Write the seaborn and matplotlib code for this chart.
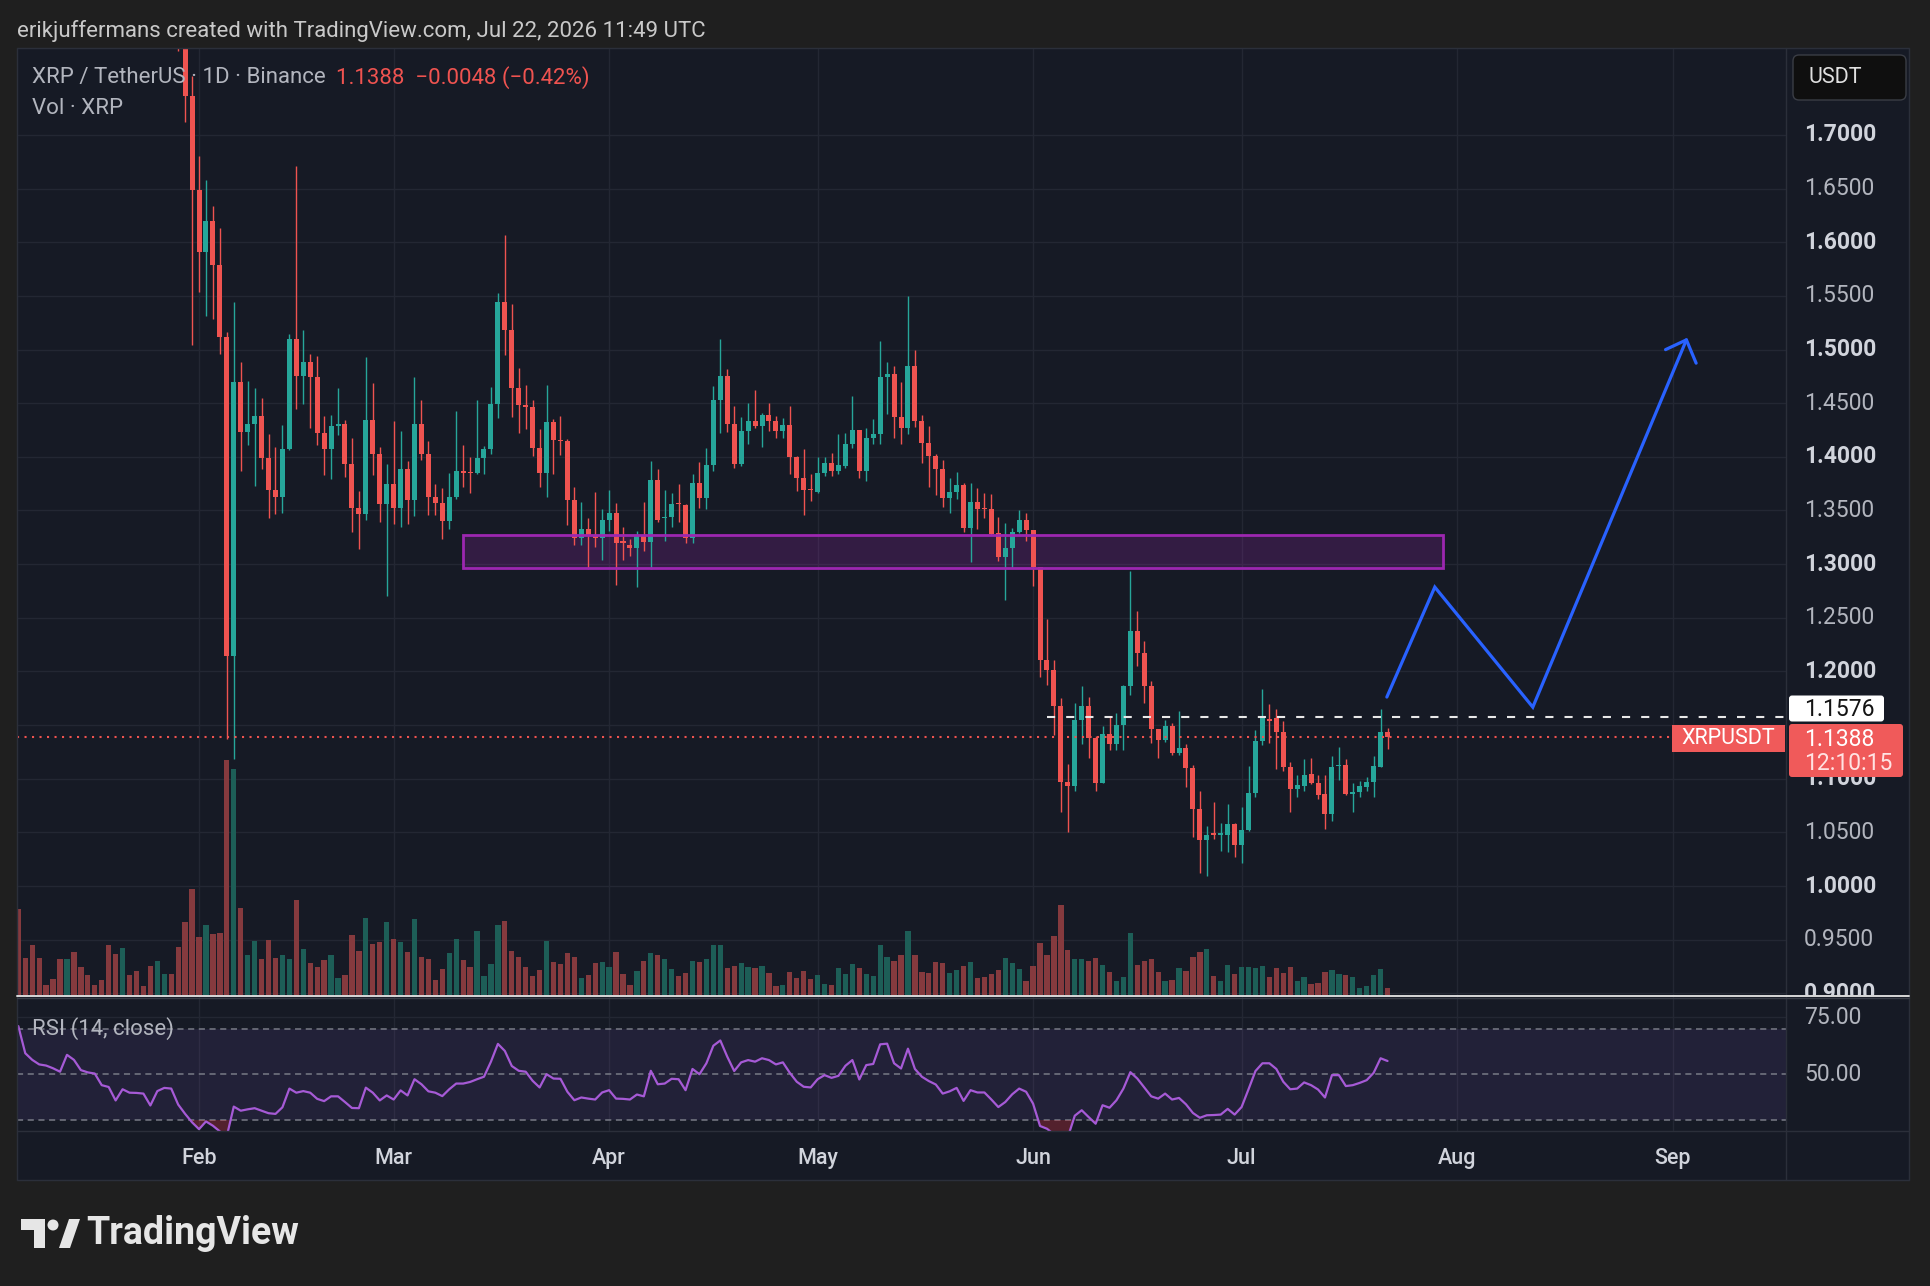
import numpy as np
import pandas as pd
import matplotlib
matplotlib.use("Agg")
import matplotlib.pyplot as plt
import seaborn as sns
from matplotlib.patches import Rectangle, FancyBboxPatch, Polygon, Circle
from matplotlib.lines import Line2D

# ---------------- data (XRP / TetherUS, 1D, Binance) ----------------
first_day = "2026-01-06"
last_day = "2026-07-22"
ref_day = "2026-02-01"

opens = [
    2.140, 2.100, 2.060, 2.020, 1.985, 1.975, 1.960, 1.935, 1.975, 1.955,
    1.935, 1.920, 1.910, 1.900, 1.860, 1.840, 1.870, 1.855, 1.845, 1.840,
    1.820, 1.840, 1.855, 1.838, 1.805, 1.736,
    1.649, 1.591, 1.620, 1.579, 1.512, 1.214, 1.470, 1.423, 1.431, 1.438,
    1.399, 1.369, 1.363, 1.407, 1.510, 1.475, 1.488, 1.474, 1.422, 1.407,
    1.429, 1.431, 1.393, 1.352, 1.347, 1.434, 1.403, 1.356, 1.375, 1.352,
    1.389, 1.360, 1.431, 1.403, 1.363, 1.357, 1.340, 1.363, 1.387, 1.386,
    1.385, 1.399, 1.407, 1.449, 1.544, 1.518, 1.464, 1.448, 1.446, 1.408,
    1.385, 1.432, 1.416, 1.415, 1.360, 1.324, 1.333, 1.327, 1.324, 1.341,
    1.348, 1.321, 1.318, 1.315, 1.326, 1.321, 1.378, 1.343, 1.344, 1.357,
    1.355, 1.324, 1.376, 1.362, 1.392, 1.453, 1.475, 1.431, 1.393, 1.424,
    1.433, 1.429, 1.439, 1.433, 1.424, 1.430, 1.400, 1.380, 1.370, 1.367,
    1.385, 1.394, 1.387, 1.391, 1.412, 1.425, 1.387, 1.418, 1.421, 1.474,
    1.477, 1.437, 1.427, 1.485, 1.433, 1.413, 1.401, 1.389, 1.362, 1.367,
    1.374, 1.334, 1.358, 1.352, 1.351, 1.329, 1.307, 1.315, 1.330, 1.341,
    1.332, 1.297, 1.211, 1.201, 1.168, 1.097, 1.093, 1.155, 1.168, 1.138,
    1.096, 1.142, 1.132, 1.150, 1.186, 1.238, 1.217, 1.186, 1.146, 1.136,
    1.149, 1.124, 1.129, 1.110, 1.072, 1.043, 1.049, 1.048, 1.048, 1.058,
    1.038, 1.052, 1.087, 1.135, 1.156, 1.157, 1.144, 1.111, 1.090, 1.093,
    1.104, 1.096, 1.086, 1.067, 1.112, 1.113, 1.086, 1.088, 1.092, 1.097,
    1.111, 1.1436,
]
highs = [
    2.160, 2.115, 2.075, 2.035, 1.995, 1.985, 1.970, 1.990, 1.985, 1.965,
    1.945, 1.930, 1.920, 1.905, 1.870, 1.885, 1.880, 1.865, 1.855, 1.850,
    1.850, 1.865, 1.862, 1.850, 1.815, 1.755,
    1.680, 1.658, 1.634, 1.613, 1.516, 1.544, 1.488, 1.471, 1.464, 1.455,
    1.421, 1.409, 1.430, 1.514, 1.671, 1.518, 1.496, 1.494, 1.438, 1.439,
    1.464, 1.434, 1.418, 1.368, 1.493, 1.469, 1.409, 1.393, 1.433, 1.424,
    1.396, 1.474, 1.453, 1.415, 1.375, 1.371, 1.385, 1.443, 1.411, 1.400,
    1.453, 1.410, 1.465, 1.553, 1.607, 1.542, 1.483, 1.467, 1.453, 1.426,
    1.467, 1.435, 1.438, 1.417, 1.372, 1.358, 1.343, 1.367, 1.351, 1.369,
    1.357, 1.335, 1.323, 1.331, 1.358, 1.396, 1.389, 1.369, 1.366, 1.375,
    1.356, 1.384, 1.395, 1.408, 1.466, 1.510, 1.482, 1.447, 1.437, 1.450,
    1.462, 1.441, 1.450, 1.438, 1.436, 1.447, 1.401, 1.407, 1.384, 1.400,
    1.400, 1.404, 1.421, 1.422, 1.457, 1.425, 1.427, 1.435, 1.508, 1.488,
    1.485, 1.470, 1.550, 1.500, 1.439, 1.429, 1.403, 1.397, 1.380, 1.386,
    1.376, 1.376, 1.371, 1.366, 1.365, 1.344, 1.338, 1.334, 1.350, 1.348,
    1.332, 1.297, 1.249, 1.211, 1.175, 1.114, 1.171, 1.186, 1.176, 1.140,
    1.149, 1.158, 1.161, 1.187, 1.294, 1.256, 1.228, 1.191, 1.146, 1.155,
    1.152, 1.163, 1.132, 1.113, 1.089, 1.056, 1.078, 1.059, 1.076, 1.059,
    1.074, 1.112, 1.145, 1.184, 1.170, 1.165, 1.154, 1.116, 1.103, 1.118,
    1.119, 1.103, 1.103, 1.121, 1.130, 1.118, 1.096, 1.098, 1.102, 1.121,
    1.165, 1.1475,
]
lows = [
    2.090, 2.050, 2.010, 1.975, 1.960, 1.950, 1.925, 1.930, 1.945, 1.925,
    1.910, 1.900, 1.890, 1.850, 1.830, 1.835, 1.845, 1.835, 1.830, 1.815,
    1.812, 1.830, 1.830, 1.778, 1.712, 1.504,
    1.554, 1.531, 1.528, 1.496, 1.137, 1.118, 1.387, 1.411, 1.373, 1.389,
    1.343, 1.347, 1.348, 1.406, 1.445, 1.449, 1.427, 1.411, 1.383, 1.379,
    1.420, 1.381, 1.330, 1.314, 1.341, 1.383, 1.339, 1.270, 1.337, 1.335,
    1.337, 1.345, 1.397, 1.346, 1.346, 1.323, 1.333, 1.361, 1.372, 1.366,
    1.384, 1.384, 1.403, 1.436, 1.495, 1.437, 1.422, 1.426, 1.401, 1.372,
    1.363, 1.384, 1.402, 1.336, 1.318, 1.318, 1.295, 1.316, 1.304, 1.331,
    1.281, 1.304, 1.308, 1.279, 1.312, 1.295, 1.339, 1.322, 1.335, 1.339,
    1.320, 1.320, 1.352, 1.351, 1.387, 1.422, 1.423, 1.390, 1.391, 1.412,
    1.427, 1.409, 1.424, 1.418, 1.418, 1.384, 1.368, 1.346, 1.359, 1.366,
    1.382, 1.382, 1.384, 1.390, 1.408, 1.380, 1.377, 1.412, 1.412, 1.440,
    1.418, 1.412, 1.421, 1.428, 1.394, 1.372, 1.364, 1.353, 1.348, 1.361,
    1.330, 1.302, 1.333, 1.343, 1.327, 1.303, 1.267, 1.296, 1.329, 1.322,
    1.280, 1.195, 1.187, 1.141, 1.069, 1.050, 1.089, 1.132, 1.119, 1.089,
    1.096, 1.127, 1.127, 1.127, 1.178, 1.205, 1.171, 1.133, 1.119, 1.134,
    1.122, 1.122, 1.092, 1.046, 1.012, 1.009, 1.044, 1.033, 1.032, 1.027,
    1.021, 1.051, 1.083, 1.131, 1.133, 1.109, 1.107, 1.069, 1.083, 1.089,
    1.095, 1.081, 1.053, 1.061, 1.099, 1.085, 1.069, 1.083, 1.089, 1.083,
    1.111, 1.128,
]
closes = [
    2.100, 2.060, 2.020, 1.985, 1.975, 1.960, 1.935, 1.975, 1.955, 1.935,
    1.920, 1.910, 1.900, 1.860, 1.840, 1.870, 1.855, 1.845, 1.840, 1.820,
    1.840, 1.855, 1.838, 1.805, 1.736, 1.649,
    1.591, 1.620, 1.579, 1.512, 1.214, 1.470, 1.423, 1.431, 1.438, 1.399,
    1.369, 1.363, 1.407, 1.510, 1.475, 1.488, 1.474, 1.422, 1.407, 1.429,
    1.431, 1.393, 1.352, 1.347, 1.434, 1.403, 1.356, 1.375, 1.352, 1.389,
    1.360, 1.431, 1.403, 1.363, 1.357, 1.340, 1.363, 1.387, 1.385, 1.385,
    1.399, 1.407, 1.449, 1.544, 1.518, 1.464, 1.448, 1.446, 1.408, 1.385,
    1.432, 1.416, 1.415, 1.360, 1.324, 1.333, 1.327, 1.324, 1.341, 1.348,
    1.320, 1.320, 1.315, 1.326, 1.321, 1.378, 1.341, 1.344, 1.356, 1.356,
    1.324, 1.376, 1.362, 1.392, 1.453, 1.475, 1.431, 1.393, 1.424, 1.433,
    1.429, 1.439, 1.433, 1.424, 1.430, 1.400, 1.380, 1.369, 1.369, 1.385,
    1.394, 1.387, 1.392, 1.412, 1.425, 1.387, 1.418, 1.421, 1.474, 1.477,
    1.437, 1.427, 1.485, 1.433, 1.413, 1.401, 1.389, 1.362, 1.367, 1.374,
    1.334, 1.358, 1.351, 1.351, 1.328, 1.307, 1.315, 1.330, 1.341, 1.332,
    1.297, 1.211, 1.201, 1.168, 1.097, 1.093, 1.155, 1.168, 1.138, 1.096,
    1.142, 1.132, 1.150, 1.186, 1.238, 1.217, 1.186, 1.146, 1.136, 1.149,
    1.124, 1.129, 1.110, 1.072, 1.043, 1.048, 1.048, 1.049, 1.058, 1.038,
    1.052, 1.087, 1.135, 1.157, 1.154, 1.144, 1.111, 1.090, 1.094, 1.103,
    1.096, 1.085, 1.067, 1.111, 1.113, 1.086, 1.088, 1.093, 1.097, 1.112,
    1.1436, 1.1388,
]
volumes = [
    87, 38, 51, 38, 11, 17, 37, 37, 44, 29, 21, 11, 16, 51, 42, 48, 21, 25, 10, 30,
    35, 22, 22, 49, 74, 107, 59, 71, 62, 63, 236, 227, 88, 41, 55, 37, 56, 38, 41, 37,
    96, 47, 33, 29, 36, 41, 18, 21, 61, 45, 78, 52, 54, 74, 57, 54, 44, 77, 39, 37,
    16, 27, 43, 57, 36, 29,
    65, 20, 32, 71, 75, 45, 39, 29, 20, 26, 55, 34, 32, 43, 39, 18, 21, 33, 34, 29,
    44, 22, 11, 25, 35, 43, 41, 37, 27, 20, 23, 35, 34, 37, 51, 51, 28, 30, 33, 29,
    28, 30, 23, 10, 11, 24, 18, 25, 17, 21, 12, 11, 28, 22, 32, 28, 22, 20, 51, 39,
    35, 41, 65, 41, 24, 23,
    34, 33, 23, 26, 30, 34, 18, 19, 22, 26, 38, 33, 27, 15, 30, 53, 41, 60, 91, 46,
    37, 37, 35, 38, 31, 24, 15, 19, 63, 31, 35, 37, 24, 15, 16, 28, 25, 39, 44, 47,
    20, 15, 31, 22, 29, 29, 28, 30, 19, 28, 23, 29, 15, 19, 12, 13, 24, 26, 22, 21,
    19, 8, 10, 21, 27, 8,
]
rsi_values = [
    71.2, 59.3, 56.4, 54.4, 53.9, 52.7, 51.2, 58.6, 56.4, 51.9,
    50.9, 50.4, 45.3, 44.5, 38.6, 43.5, 42.0, 41.9, 41.6, 36.4,
    42.7, 44.1, 43.8, 36.8, 32.7, 29.0, 26.0, 29.4, 27.5, 25.0,
    23.0, 35.9, 34.1, 34.7, 35.2, 34.1, 33.0, 32.7, 35.6, 43.8,
    42.0, 42.7, 42.0, 39.3, 38.3, 40.4, 40.4, 37.9, 35.3, 35.2,
    44.2, 42.0, 38.6, 40.8, 39.0, 43.0, 40.8, 47.9, 45.7, 42.6,
    42.0, 40.5, 43.5, 46.0, 46.0, 46.7,
    47.9, 49.0, 55.6, 63.4, 60.3, 53.7, 51.6, 51.2, 47.2, 44.3,
    50.1, 48.2, 48.1, 42.4, 38.7, 39.9, 39.4, 39.0, 42.1, 43.1,
    39.4, 39.3, 39.0, 41.2, 40.4, 51.6, 45.7, 46.0, 48.1, 47.9,
    43.1, 52.4, 50.1, 54.9, 62.6, 64.9, 57.8, 51.5, 55.3, 56.3,
    55.6, 57.1, 56.3, 54.4, 55.3, 50.7, 46.8, 44.6, 44.3, 47.9,
    49.7, 48.5, 49.4, 53.8, 56.3, 47.8, 54.1, 54.6, 63.2, 63.5,
    54.9, 52.6, 61.3, 52.4, 49.0, 47.1,
    45.6, 41.6, 42.6, 44.1, 38.4, 43.1, 42.1, 42.1, 39.0, 35.7,
    37.9, 41.3, 43.8, 42.4, 37.2, 27.4, 26.2, 23.7, 21.0, 22.5,
    31.9, 34.3, 31.3, 28.4, 36.5, 35.4, 38.7, 43.8, 51.0, 48.2,
    44.3, 40.4, 39.4, 41.6, 39.0, 39.7, 36.9, 33.1, 31.0, 32.1,
    32.2, 32.4, 34.9, 32.4, 35.7, 43.5, 51.5, 54.9, 54.9, 52.4,
    46.8, 43.5, 43.8, 46.5, 45.3, 43.4, 39.9, 49.7, 49.7, 44.9,
    45.3, 46.3, 47.5, 50.7, 57.1, 55.9,
]
month_labels = ["Feb", "Mar", "Apr", "May", "Jun", "Jul", "Aug", "Sep"]
month_starts = ["2026-02-01", "2026-03-01", "2026-04-01", "2026-05-01",
                "2026-06-01", "2026-07-01", "2026-08-01", "2026-09-01"]
price_ticks = [1.70, 1.65, 1.60, 1.55, 1.50, 1.45, 1.40, 1.35, 1.30, 1.25,
               1.20, 1.10, 1.05, 1.00, 0.95, 0.90]
rsi_ticks = [75, 50]
rsi_bands = [70, 50, 30]

# drawings (days since Feb 1, price)
zone_days = [38.0, 179.0]
zone_prices = [1.2961, 1.3268]
level_line_price = 1.1576
level_line_start = 122
last_price = 1.1388
path_days = [170.9, 177.8, 191.9, 214.0]
path_prices = [1.1761, 1.2786, 1.1667, 1.5090]
arrow_days = [211.0, 214.0, 215.4]
arrow_prices = [1.4999, 1.5090, 1.4873]

# ---------------- style ----------------
W, H = 1930, 1286
OUTER = "#1f1f1f"
BG = "#161a25"
GRID = "#232733"
BORDER = "#2b2f3a"
UP = "#26a69a"
DOWN = "#ef5350"
VUP = "#1d5e57"
VDOWN = "#853a3e"
TXT = "#b2b5be"
LABEL_RED = "#f05a5a"

sns.set_theme(style="dark")
plt.rcParams["font.family"] = ["Roboto", "DejaVu Sans"]
plt.rcParams["axes.unicode_minus"] = False

dates = pd.date_range(first_day, last_day, freq="D")
x = np.asarray((dates - pd.Timestamp(ref_day)).days, dtype=float)
o, h, l, c = (np.asarray(v, dtype=float) for v in (opens, highs, lows, closes))
vol = np.asarray(volumes, dtype=float)
rsi = np.asarray(rsi_values, dtype=float)
mx = np.asarray((pd.to_datetime(month_starts) - pd.Timestamp(ref_day)).days, dtype=float)
up = c >= o

XL, XR = -26.19, 228.33
YB, YT = 0.8975, 1.781
RB, RT = 25.2, 84.4

fig = plt.figure(figsize=(W / 100, H / 100), dpi=100)
fig.patch.set_facecolor(OUTER)


def rect(x0, y0, x1, y1):
    return [x0 / W, 1 - y1 / H, (x1 - x0) / W, (y1 - y0) / H]


def clean(a, face=BG):
    a.set_facecolor(face)
    a.set_xticks([])
    a.set_yticks([])
    a.set_xlabel("")
    a.set_ylabel("")
    for s in a.spines.values():
        s.set_visible(False)


LEFT, RIGHT, SCALE_R = 17, 1786, 1909
TOP, PB, RBOT, TBOT = 48, 996, 1131, 1180

# ---- price panel ----
ax = fig.add_axes(rect(LEFT, TOP, RIGHT, PB))
clean(ax)
ax.set_xlim(XL, XR)
ax.set_ylim(YB, YT)
for p in price_ticks + [1.15]:
    ax.axhline(p, color=GRID, lw=1.0, zorder=0)
for m in mx:
    ax.axvline(m, color=GRID, lw=1.0, zorder=0)

cols = np.where(up, UP, DOWN)
ax.vlines(x, l, h, colors=cols, lw=1.0, zorder=3)
body_lo = np.minimum(o, c)
body_h = np.maximum(np.abs(c - o), 0.0011)
ax.bar(x, body_h, bottom=body_lo, width=0.72, color=cols, linewidth=0, zorder=4)

# zone
ax.add_patch(Rectangle((zone_days[0], zone_prices[0]), zone_days[1] - zone_days[0],
                       zone_prices[1] - zone_prices[0], facecolor="#9c27b0", alpha=0.22,
                       edgecolor="none", zorder=2))
ax.add_patch(Rectangle((zone_days[0], zone_prices[0]), zone_days[1] - zone_days[0],
                       zone_prices[1] - zone_prices[0], facecolor="none",
                       edgecolor="#9c27b0", lw=2.0, zorder=5))
# level lines
ax.plot([level_line_start, XR], [level_line_price] * 2, color="#e8e8e8", lw=1.5,
        dashes=(3.9, 5.3), zorder=5)
ax.plot([XL, XR], [last_price] * 2, color=DOWN, lw=1.5, dashes=(1, 2.6), zorder=5)
# projected path
ax.plot(path_days, path_prices, color="#2962ff", lw=2.3, solid_capstyle="round",
        solid_joinstyle="miter", zorder=6)
ax.plot(arrow_days, arrow_prices, color="#2962ff", lw=2.3, solid_capstyle="round",
        zorder=6)

# ---- volume overlay ----
axv = fig.add_axes(rect(LEFT, TOP, RIGHT, PB))
clean(axv, face="none")
axv.set_xlim(XL, XR)
axv.set_ylim(0, PB - TOP)
axv.bar(x, vol, width=0.76, color=np.where(up, VUP, VDOWN), linewidth=0, zorder=1)

# ---- RSI panel ----
axr = fig.add_axes(rect(LEFT, PB, RIGHT, RBOT))
clean(axr)
axr.set_xlim(XL, XR)
axr.set_ylim(RB, RT)
axr.axhline(75, color=GRID, lw=1.0, zorder=0)
for m in mx:
    axr.axvline(m, color=GRID, lw=1.0, zorder=0)
axr.axhspan(30, 70, color="#7e57c2", alpha=0.12, lw=0, zorder=0)
for b in rsi_bands:
    axr.axhline(b, color="#787b86", lw=1.1, dashes=(4, 3), zorder=1)
axr.fill_between(x, rsi, 30, where=rsi < 30, interpolate=True, color="#f23645",
                 alpha=0.28, lw=0, zorder=1)
df_rsi = pd.DataFrame({"day": x, "rsi": rsi})
sns.lineplot(data=df_rsi, x="day", y="rsi", ax=axr, color="#a65ad6", lw=1.6, zorder=3)
axr.set_xlabel("")
axr.set_ylabel("")
axr.set_xlim(XL, XR)
axr.set_ylim(RB, RT)

# ---- time axis ----
axt = fig.add_axes(rect(LEFT, RBOT, RIGHT, TBOT))
clean(axt)
axt.set_xlim(XL, XR)
axt.set_ylim(0, 1)
for m, lab in zip(mx, month_labels):
    axt.text(m, 0.44, lab, ha="center", va="center", color="#d1d4dc", fontsize=15.5,
             fontweight="medium")

# ---- right price scale ----
axs = fig.add_axes(rect(RIGHT, TOP, SCALE_R, PB))
clean(axs)
axs.set_xlim(0, 1)
axs.set_ylim(YB, YT)
for p in price_ticks:
    bold = abs(round(p * 10) - p * 10) < 1e-6
    axs.text(0.146, p, f"{p:.4f}", ha="left", va="center", fontsize=16.5,
             fontweight="bold" if bold else "normal",
             color="#d1d4dc" if bold else TXT, clip_on=True)

# ---- right RSI scale ----
axrs = fig.add_axes(rect(RIGHT, PB, SCALE_R, RBOT))
clean(axrs)
axrs.set_xlim(0, 1)
axrs.set_ylim(RB, RT)
for t in rsi_ticks:
    axrs.text(0.146, t, f"{t:.2f}", ha="left", va="center", fontsize=16.5, color=TXT)
axcorner = fig.add_axes(rect(RIGHT, RBOT, SCALE_R, TBOT))
clean(axcorner)

# ---- overlay in pixel coordinates for labels, frame and texts ----
axp = fig.add_axes([0, 0, 1, 1])
axp.set_xlim(0, W)
axp.set_ylim(H, 0)
axp.axis("off")
axp.patch.set_alpha(0)


def pline(x0, y0, x1, y1, color=BORDER, lw=1.0):
    axp.add_line(Line2D([x0, x1], [y0, y1], color=color, lw=lw))


pline(LEFT, TOP, SCALE_R, TOP)
pline(LEFT, TBOT, SCALE_R, TBOT)
pline(LEFT, TOP, LEFT, TBOT)
pline(SCALE_R, TOP, SCALE_R, TBOT)
pline(RIGHT, TOP, RIGHT, TBOT)
pline(LEFT, RBOT, SCALE_R, RBOT)
pline(LEFT, PB + 1.5, SCALE_R, PB + 1.5, color="#3a3e49", lw=1.0)
pline(LEFT, PB - 0.5, SCALE_R, PB - 0.5, color="#d8d8d8", lw=1.4)

# USDT currency box
axp.add_patch(FancyBboxPatch((1793, 55), 113, 45, boxstyle="round,pad=0,rounding_size=6",
                             facecolor="#0f0f0f", edgecolor="#3a3d45", lw=1.0))
axp.text(1809, 77.5, "USDT", ha="left", va="center", fontsize=15.5, color="#e0e0e0")
# level label (white)
axp.add_patch(FancyBboxPatch((1789, 695.5), 95, 26, boxstyle="round,pad=0,rounding_size=3",
                             facecolor="#ffffff", lw=0))
axp.text(1804, 709, "1.1576", ha="left", va="center", fontsize=16.5, color="#131313")
# last price label (red)
axp.add_patch(FancyBboxPatch((1789, 724), 114, 53, boxstyle="round,pad=0,rounding_size=3",
                             facecolor=LABEL_RED, lw=0))
axp.text(1804, 739, "1.1388", ha="left", va="center", fontsize=16.5, color="#ffffff")
axp.text(1804, 763, "12:10:15", ha="left", va="center", fontsize=16.5, color="#ffe3e3")
# symbol tag
axp.add_patch(Rectangle((1672, 725), 113, 27, facecolor=LABEL_RED, lw=0))
axp.text(1681, 739, "XRPUSDT", ha="left", va="center", fontsize=15.5, color="#ffffff")

# texts
axp.text(17, 31, "erikjuffermans created with TradingView.com, Jul 22, 2026 11:49 UTC",
         fontsize=16, color="#c9c9c9", va="center", ha="left")
axp.text(32, 78, "XRP / TetherUS · 1D · Binance", fontsize=16, color=TXT,
         va="center", ha="left")
axp.text(336, 78, "1.1388  −0.0048 (−0.42%)", fontsize=16, color="#ef5350",
         va="center", ha="left")
axp.text(32, 108, "Vol · XRP", fontsize=16, color=TXT, va="center", ha="left")
axp.text(32, 1029, "RSI (14, close)", fontsize=16, color=TXT, va="center", ha="left")

# TradingView logo
logo = "#e6e6e6"
axp.add_patch(Polygon([(21, 1219), (45, 1219), (45, 1248), (34, 1248), (34, 1230),
                       (21, 1230)], closed=True, facecolor=logo, lw=0))
axp.add_patch(Circle((53, 1225), 5.5, facecolor=logo, lw=0))
axp.add_patch(Polygon([(59, 1248), (70, 1248), (80, 1219), (69, 1219)],
                      closed=True, facecolor=logo, lw=0))
axp.text(86, 1234, "TradingView", fontsize=27, fontweight="bold", color=logo,
         va="center", ha="left")

fig.savefig("out.png", dpi=100, facecolor=OUTER)
